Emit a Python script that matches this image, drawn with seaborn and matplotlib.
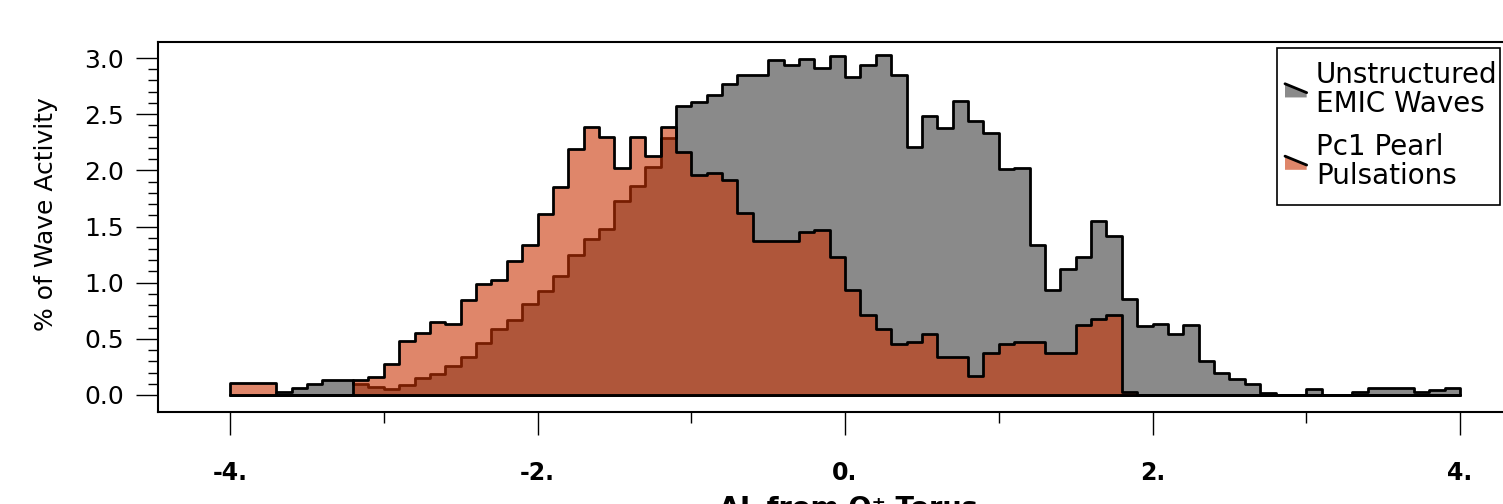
import numpy as np
import pandas as pd
import matplotlib
matplotlib.use("Agg")
import matplotlib.pyplot as plt
import seaborn as sns
from matplotlib.legend_handler import HandlerBase
from matplotlib.patches import Polygon, Patch, Rectangle
from matplotlib.lines import Line2D
from matplotlib.colors import to_rgba

# ---------------- data ----------------
bin_start = -4.0
bin_stop = 4.0
n_bins = 80

# % of wave activity per 0.1 bin of dL, from -4.0 to 4.0
emic_pct = [
    0.0, 0.0, 0.0, 0.03, 0.065, 0.095, 0.13, 0.13, 0.10, 0.074,
    0.05, 0.09, 0.15, 0.19, 0.26, 0.335, 0.46, 0.59, 0.67, 0.81,
    0.93, 1.06, 1.25, 1.39, 1.48, 1.73, 1.86, 2.03, 2.29, 2.57,
    2.61, 2.675, 2.77, 2.85, 2.85, 2.98, 2.94, 2.995, 2.91, 3.015,
    2.83, 2.94, 3.025, 2.85, 2.21, 2.48, 2.38, 2.62, 2.44, 2.33,
    2.01, 2.02, 1.335, 0.934, 1.12, 1.225, 1.55, 1.415, 0.854, 0.61,
    0.63, 0.54, 0.62, 0.305, 0.20, 0.14, 0.095, 0.015, 0.0, 0.0,
    0.053, 0.0, 0.0, 0.03, 0.06, 0.06, 0.06, 0.03, 0.045, 0.06,
]
pearl_pct = [
    0.11, 0.11, 0.11, 0.0, 0.0, 0.0, 0.0, 0.0, 0.13, 0.163,
    0.28, 0.48, 0.55, 0.65, 0.63, 0.85, 0.99, 1.02, 1.19, 1.335,
    1.61, 1.85, 2.19, 2.39, 2.30, 2.02, 2.30, 2.13, 2.39, 2.16,
    1.96, 1.98, 1.91, 1.62, 1.37, 1.37, 1.37, 1.45, 1.47, 1.225,
    0.934, 0.71, 0.585, 0.454, 0.475, 0.54, 0.34, 0.34, 0.17, 0.37,
    0.454, 0.475, 0.475, 0.376, 0.376, 0.62, 0.68, 0.71, 0.025, 0.0,
    0.0, 0.0, 0.0, 0.0, 0.0, 0.0, 0.0, 0.0, 0.0, 0.0,
    0.0, 0.0, 0.0, 0.0, 0.0, 0.0, 0.0, 0.0, 0.0, 0.0,
]
series_labels = ["Unstructured\nEMIC Waves", "Pc1 Pearl\nPulsations"]

x_ticks = [-4, -2, 0, 2, 4]
x_tick_labels = ["-4.", "-2.", "0.", "2.", "4."]
x_minor_ticks = [-3, -1, 1, 3]
y_ticks = [0.0, 0.5, 1.0, 1.5, 2.0, 2.5, 3.0]
y_tick_labels = ["0.0", "0.5", "1.0", "1.5", "2.0", "2.5", "3.0"]
y_label = "% of Wave Activity"
x_label = "\u0394L from O\u207a Torus"

# ---------------- style ----------------
sns.set_style("ticks")
plt.rcParams["font.family"] = ["DejaVu Sans"]
for key in ["text.color", "axes.labelcolor", "xtick.color", "ytick.color", "axes.edgecolor"]:
    plt.rcParams[key] = "black"

gray_color = "#8a8a8a"
orange_color = "#ca3202"
orange_alpha = 0.59
edge_lw = 2.0

bin_width = (bin_stop - bin_start) / n_bins
centers = bin_start + bin_width * (np.arange(n_bins) + 0.5)
emic_df = pd.DataFrame({"dL": centers, "pct": emic_pct})
pearl_df = pd.DataFrame({"dL": centers, "pct": pearl_pct})

W, H = 1503, 504
fig = plt.figure(figsize=(W / 100, H / 100), dpi=100)
ax_left, ax_right, ax_top, ax_bottom = 158, 1540, 42, 412
ax = fig.add_axes([ax_left / W, (H - ax_bottom) / H,
                   (ax_right - ax_left) / W, (ax_bottom - ax_top) / H])

sns.histplot(data=emic_df, x="dL", weights="pct", binwidth=bin_width,
             binrange=(bin_start, bin_stop),
             element="step", fill=True, color=gray_color, alpha=1.0,
             edgecolor="black", linewidth=edge_lw, ax=ax)
sns.histplot(data=pearl_df, x="dL", weights="pct", binwidth=bin_width,
             binrange=(bin_start, bin_stop),
             element="step", fill=True, color=orange_color, alpha=orange_alpha,
             edgecolor="black", linewidth=edge_lw, ax=ax)

# axis limits derived from pixel layout (x: -4 at px 230, 4 at 1460; y: 0 at 395, 3 at 58)
px_per_x = (1460 - 230) / 8.0
px_per_y = (395 - 58) / 3.0
ax.set_xlim(-4 - (230 - ax_left) / px_per_x, -4 + (ax_right - 230) / px_per_x)
ax.set_ylim(-(ax_bottom - 395) / px_per_y, (395 - ax_top) / px_per_y)

ax.set_xticks(x_ticks)
ax.set_xticklabels(x_tick_labels, fontsize=17, fontweight="bold")
ax.set_xticks(x_minor_ticks, minor=True)
ax.set_yticks(y_ticks)
ax.set_yticklabels(y_tick_labels, fontsize=18)
ax.set_yticks(np.arange(0, 3.01, 0.1), minor=True)
ax.set_xlabel("")
ax.set_ylabel("")

ax.tick_params(axis="x", which="major", direction="out", length=16.5, width=1.0, pad=18.5, colors="black")
ax.tick_params(axis="x", which="minor", direction="out", length=8, width=1.0)
ax.tick_params(axis="y", which="major", direction="out", length=15.8, width=1.0, pad=8.5, colors="black")
ax.tick_params(axis="y", which="minor", direction="out", length=7.2, width=1.0)
for s in ax.spines.values():
    s.set_visible(True)
    s.set_linewidth(1.5)
    s.set_color("black")

fig.text(46 / W, (H - 214) / H, y_label, rotation=90, ha="center", va="center", fontsize=18)
fig.text(848 / W, (H - 516) / H, x_label, ha="center", va="baseline", fontsize=19.5, fontweight="bold")


class SlantHandler(HandlerBase):
    def create_artists(self, legend, orig_handle, xdescent, ydescent, width, height, fontsize, trans):
        x0, y0 = -xdescent, -ydescent
        poly = Polygon([(x0, y0), (x0, y0 + height), (x0 + width, y0 + height * 0.35), (x0 + width, y0)],
                       closed=True, facecolor=orig_handle.get_facecolor(), edgecolor="none", transform=trans)
        line = Line2D([x0, x0 + width], [y0 + height, y0 + height * 0.35], color="black", lw=2, transform=trans)
        return [poly, line]


handles = [Patch(facecolor=gray_color), Patch(facecolor=to_rgba(orange_color, orange_alpha))]
leg = ax.legend(handles, series_labels, handler_map={Patch: SlantHandler()},
                loc="upper left", bbox_to_anchor=(1285 / W, (H - 61) / H), bbox_transform=fig.transFigure,
                frameon=False, borderaxespad=0, borderpad=0,
                fontsize=20, handlelength=0.78, handleheight=0.38, handletextpad=0.33,
                labelspacing=0.55)
for t in leg.get_texts():
    t.set_linespacing(1.05)
    t.set_color("black")

# legend frame drawn at the reference box position
fig.patches.append(Rectangle((1277 / W, (H - 205) / H), (1500 - 1277) / W, (205 - 48) / H,
                             transform=fig.transFigure, facecolor="none", edgecolor="black",
                             linewidth=1.2, zorder=5))

fig.savefig("out.png", dpi=100)
